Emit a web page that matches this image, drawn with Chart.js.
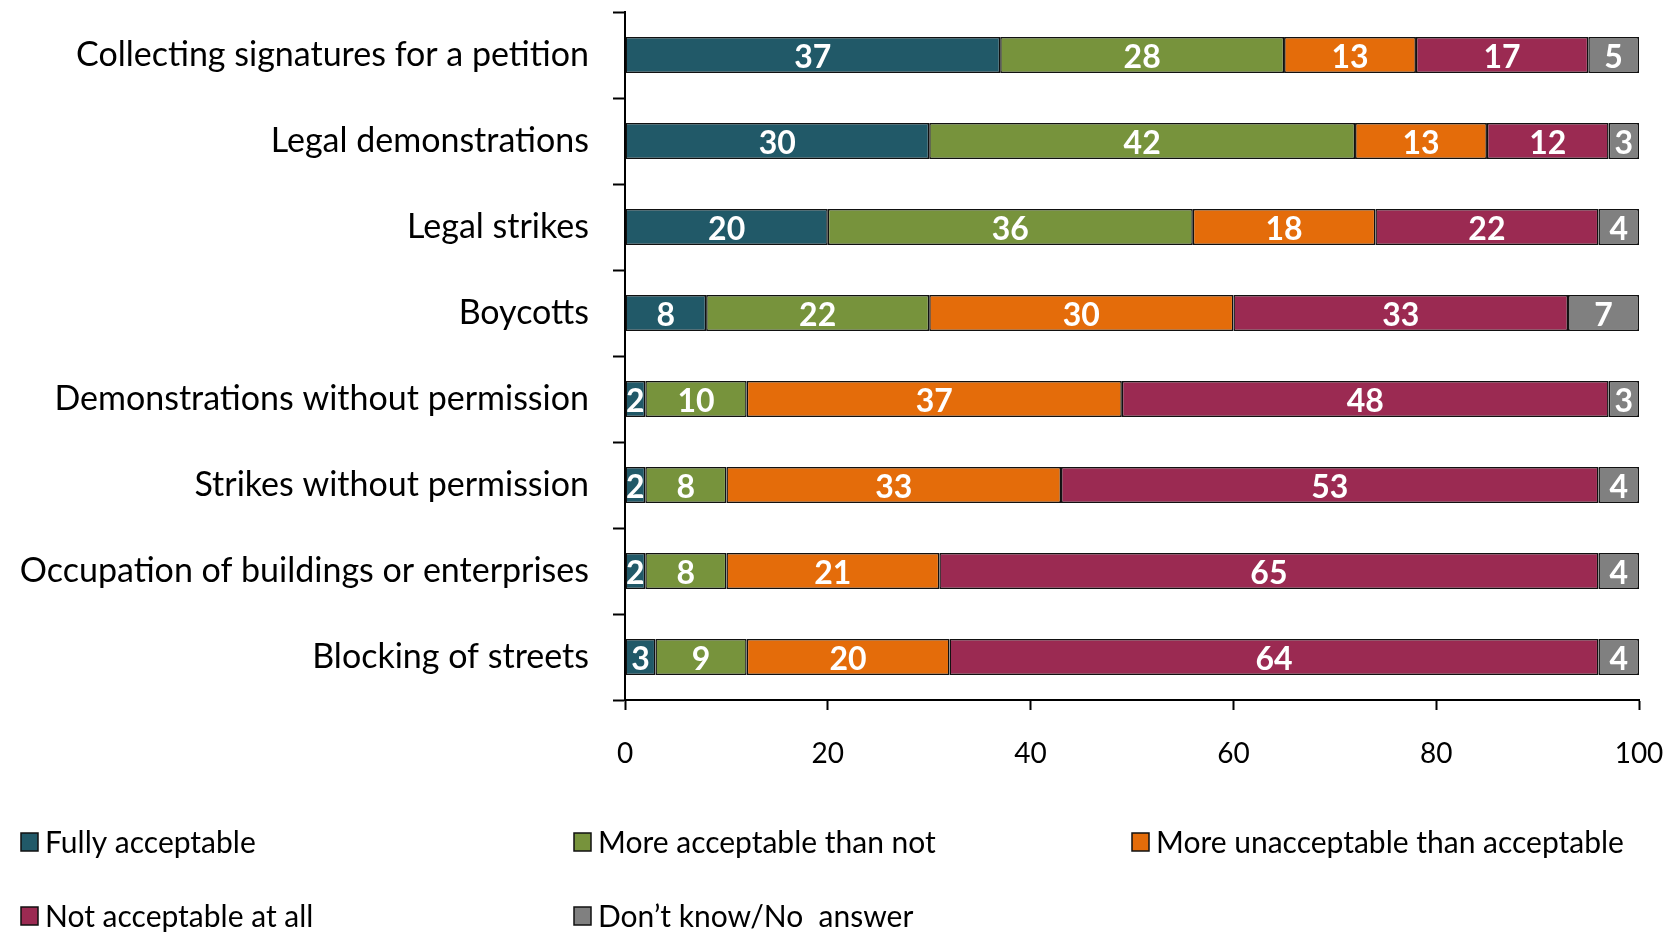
<!DOCTYPE html>
<html>
<head>
<meta charset="utf-8">
<script src="https://cdn.jsdelivr.net/npm/chart.js@4.4.1/dist/chart.umd.min.js"></script>
<style>
  html, body { margin: 0; padding: 0; background: #fff; }
  #wrap { width: 1667px; height: 932px; position: relative; }
</style>
</head>
<body>
<div id="wrap"><canvas id="barChart"></canvas></div>
<script>
const categories = [
  'Collecting signatures for a petition',
  'Legal demonstrations',
  'Legal strikes',
  'Boycotts',
  'Demonstrations without permission',
  'Strikes without permission',
  'Occupation of buildings or enterprises',
  'Blocking of streets'
];

const fullyAcceptable = [37, 30, 20, 8, 2, 2, 2, 3];
const moreAcceptable = [28, 42, 36, 22, 10, 8, 8, 9];
const moreUnacceptable = [13, 13, 18, 30, 37, 33, 21, 20];
const notAcceptable = [17, 12, 22, 33, 48, 53, 65, 64];
const dontKnow = [5, 3, 4, 7, 3, 4, 4, 4];

const xTicks = [0, 20, 40, 60, 80, 100];

const FONT = 'Lato, "Open Sans", sans-serif';

function series(label, data, color) {
  return {
    label: label,
    data: data,
    backgroundColor: color,
    borderColor: '#111',
    borderWidth: 1.5,
    borderSkipped: false,
    barPercentage: 0.42,
    categoryPercentage: 1.0
  };
}

// keep the plot area where we put it
function noPadding(scale) {
  scale.paddingTop = 0;
  scale.paddingBottom = 0;
  scale.paddingLeft = 0;
  scale.paddingRight = 0;
}

// white value labels in the middle of each segment
const valueLabels = {
  id: 'valueLabels',
  afterDatasetsDraw(chart) {
    const c = chart.ctx;
    c.save();
    c.fillStyle = '#fff';
    c.font = 'bold 32px ' + FONT;
    c.textAlign = 'center';
    c.textBaseline = 'middle';
    chart.data.datasets.forEach((ds, i) => {
      chart.getDatasetMeta(i).data.forEach((bar, j) => {
        const p = bar.getProps(['x', 'y', 'base'], true);
        c.fillText(ds.data[j], (p.x + p.base) / 2, p.y + 3);
      });
    });
    c.restore();
  }
};

// legend in a 3-column grid below the axis
const gridLegend = {
  id: 'gridLegend',
  afterDraw(chart) {
    const c = chart.ctx;
    const cols = [21, 574, 1132];
    const rows = [842, 916];
    c.save();
    c.font = '30px ' + FONT;
    c.textBaseline = 'middle';
    c.textAlign = 'left';
    chart.data.datasets.forEach((ds, i) => {
      const x = cols[i % 3];
      const y = rows[Math.floor(i / 3)];
      c.fillStyle = ds.backgroundColor;
      c.fillRect(x, y - 9, 17, 18);
      c.strokeStyle = '#111';
      c.lineWidth = 1.5;
      c.strokeRect(x, y - 9, 17, 18);
      c.fillStyle = '#000';
      c.fillText(ds.label, x + 24, y + 1);
    });
    c.restore();
  }
};

const ctx = document.getElementById('barChart').getContext('2d');

new Chart(ctx, {
  type: 'bar',
  data: {
    labels: categories,
    datasets: [
      series('Fully acceptable', fullyAcceptable, '#215968'),
      series('More acceptable than not', moreAcceptable, '#77933c'),
      series('More unacceptable than acceptable', moreUnacceptable, '#e46c0a'),
      series('Not acceptable at all', notAcceptable, '#9b2a52'),
      series("Don\u2019t know/No  answer", dontKnow, '#808080')
    ]
  },
  options: {
    indexAxis: 'y',
    responsive: true,
    maintainAspectRatio: false,
    animation: false,
    layout: { autoPadding: false, padding: { left: 0, right: 28, top: 12, bottom: 0 } },
    plugins: {
      legend: { display: false },
      tooltip: { enabled: false }
    },
    scales: {
      x: {
        stacked: true,
        min: 0,
        max: 100,
        afterBuildTicks(scale) {
          scale.ticks = xTicks.map(v => ({ value: v }));
        },
        afterFit(scale) {
          scale.height = 232;
          noPadding(scale);
        },
        border: { display: true, color: '#000', width: 2 },
        grid: {
          drawOnChartArea: false,
          drawTicks: true,
          tickLength: 10,
          tickColor: '#000',
          tickWidth: 2
        },
        ticks: {
          color: '#000',
          padding: 27,
          maxRotation: 0,
          font: { family: FONT, size: 28 }
        }
      },
      y: {
        stacked: true,
        afterFit(scale) {
          scale.width = 625;
          noPadding(scale);
        },
        border: { display: true, color: '#000', width: 2 },
        grid: {
          offset: true,
          drawOnChartArea: false,
          drawTicks: true,
          tickLength: 12,
          tickColor: '#000',
          tickWidth: 2
        },
        ticks: {
          color: '#000',
          padding: 24,
          font: { family: FONT, size: 34 }
        }
      }
    }
  },
  plugins: [valueLabels, gridLegend]
});
</script>
</body>
</html>
